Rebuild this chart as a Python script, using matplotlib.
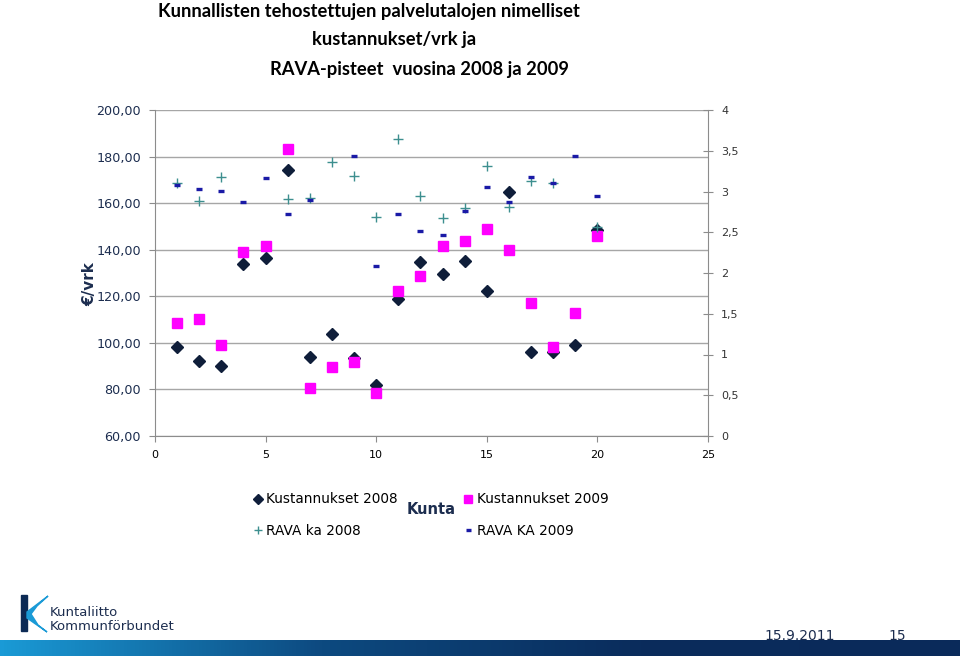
import numpy as np
import matplotlib.pyplot as plt
from matplotlib.patches import Polygon, Rectangle
from matplotlib.colors import LinearSegmentedColormap
from matplotlib.ticker import FuncFormatter

# Kunta numbers 1..20
kunta = list(range(1, 21))

# kustannukset €/vrk (left axis)
kust_2008 = [98.2, 92.2, 90.1, 133.9, 136.4, 174.2, 93.9, 103.8, 93.5, 81.9,
             118.8, 134.7, 129.6, 135.1, 122.3, 164.8, 96.1, 96.1, 99.1, 148.4]
kust_2009 = [108.5, 110.2, 99.1, 139.0, 141.6, 183.2, 80.6, 89.6, 91.8, 78.5,
             122.3, 128.7, 141.6, 143.7, 148.9, 139.9, 117.1, 98.1, 112.8, 145.9]

# RAVA averages (right axis), None = no point
rava_2008 = [3.11, 2.88, 3.18, None, None, 2.91, 2.92, 3.36, 3.19, 2.69,
             3.64, 2.95, 2.67, 2.80, 3.31, 2.81, 3.13, 3.10, None, 2.56]
rava_2009 = [3.08, 3.03, 3.01, 2.87, 3.17, 2.72, 2.90, None, 3.43, 2.08,
             2.72, 2.51, 2.47, 2.76, 3.06, 2.87, 3.18, 3.10, 3.44, 2.95]

left_ticks = [60, 80, 100, 120, 140, 160, 180, 200]
right_ticks = [0, 0.5, 1, 1.5, 2, 2.5, 3, 3.5, 4]
x_ticks = [0, 5, 10, 15, 20, 25]

title_lines = ['Kunnallisten tehostettujen palvelutalojen nimelliset',
               'kustannukset/vrk ja',
               'RAVA-pisteet  vuosina 2008 ja 2009']

navy = '#1c2d4f'
grey = '#8c8c8c'


def to_float(v):
    return np.nan if v is None else v


fig = plt.figure(figsize=(9.6, 6.56), dpi=100)
ax = fig.add_axes([155/960, 1-436/656, 553/960, 326/656])
ax2 = ax.twinx()

ax.plot(kunta, kust_2008, linestyle='none', marker='D', markersize=6.4,
        color='#0f1e3a', label='Kustannukset 2008', zorder=3)
ax.plot(kunta, kust_2009, linestyle='none', marker='s', markersize=6.5,
        color='#ff00ff', label='Kustannukset 2009', zorder=3)
ax2.plot(kunta, [to_float(v) for v in rava_2008], linestyle='none', marker='+',
         markersize=7.5, markeredgewidth=1.0, color='#3d8f8f', label='RAVA ka 2008')
ax2.plot(kunta, [to_float(v) for v in rava_2009], linestyle='none', marker='_',
         markersize=4.5, markeredgewidth=2.4, color='#1a1aa6', label='RAVA KA 2009')

ax.set_xlim(0, 25)
ax.set_ylim(60, 200)
ax2.set_ylim(0, 4)
ax.set_xticks(x_ticks)
ax.set_yticks(left_ticks)
ax2.set_yticks(right_ticks)

ax.yaxis.set_major_formatter(FuncFormatter(lambda v, p: f'{v:.2f}'.replace('.', ',')))
ax2.yaxis.set_major_formatter(FuncFormatter(lambda v, p: f'{v:g}'.replace('.', ',')))

ax.grid(axis='y', color='#a6a6a6', linewidth=1.0)
ax.set_axisbelow(True)
for a in (ax, ax2):
    a.spines['top'].set_visible(False)
    for s in ('left', 'right', 'bottom'):
        a.spines[s].set_color(grey)
ax.spines['right'].set_visible(False)
ax2.spines['left'].set_visible(False)
ax2.spines['bottom'].set_visible(False)

ax.tick_params(axis='y', colors=grey, labelcolor=navy, labelsize=9.2, length=4, pad=6)
ax.tick_params(axis='x', colors=grey, labelcolor='black', labelsize=8, length=4, pad=6)
ax2.tick_params(axis='y', colors=grey, labelcolor='#333333', labelsize=8,
                direction='inout', length=7, pad=6)

fig.text(90/960, 1-284/656, '€/vrk', rotation=90, fontsize=11, fontweight='bold',
         color=navy, ha='center', va='center')

# title, three separately placed lines
for txt, xc, yc in zip(title_lines, [369, 394, 419], [12, 40, 69]):
    fig.text(xc/960, 1-yc/656, txt, fontsize=13.2, fontweight='bold', family='Lato',
             ha='center', va='center', color='black')

# legend + x label
h1, l1 = ax.get_legend_handles_labels()
h2, l2 = ax2.get_legend_handles_labels()
handles = [h1[0], h2[0], h1[1], h2[1]]
labels = [l1[0], l2[0], l1[1], l2[1]]
leg = fig.legend(handles, labels, ncol=2, loc='center', bbox_to_anchor=(431/960, 1-515/656),
                 frameon=False, fontsize=9.8, handlelength=0.6, handletextpad=0.3,
                 columnspacing=4.9, labelspacing=1.25, markerscale=0.8)
fig.text(431/960, 1-510/656, 'Kunta', fontsize=10.5, fontweight='bold', color=navy,
         ha='center', va='center')

# footer: gradient bar
bar = fig.add_axes([0, 0, 1, 16/656])
grad = np.linspace(0, 1, 256).reshape(1, -1)
cmap = LinearSegmentedColormap.from_list('bar', ['#1a9ad6', '#0d4a80', '#0a2c5c', '#0a2a5a'])
bar.imshow(grad, aspect='auto', cmap=cmap, extent=[0, 1, 0, 1])
bar.set_axis_off()

fig.text(800/960, 1-636/656, '15.9.2011', fontsize=10, color=navy, ha='center', va='center')
fig.text(897/960, 1-636/656, '15', fontsize=10, color=navy, ha='center', va='center')

# logo
fig.patches.append(Rectangle((21/960, 1-631/656), 6/960, 36/656, transform=fig.transFigure,
                             color='#0c2a55'))
fig.patches.append(Polygon([(27/960, 1-612/656), (48/960, 1-596/656), (37/960, 1-606/656),
                            (31/960, 1-614/656), (38/960, 1-625/656), (47/960, 1-632/656),
                            (27/960, 1-618/656)], closed=True, transform=fig.transFigure,
                           color='#1a9ad6'))
fig.text(50/960, 1-612/656, 'Kuntaliitto', fontsize=9.5, color='#1c2d4f', ha='left', va='center')
fig.text(50/960, 1-626/656, 'Kommunförbundet', fontsize=9.5, color='#1c2d4f', ha='left', va='center')

fig.savefig('out.png', dpi=100)
